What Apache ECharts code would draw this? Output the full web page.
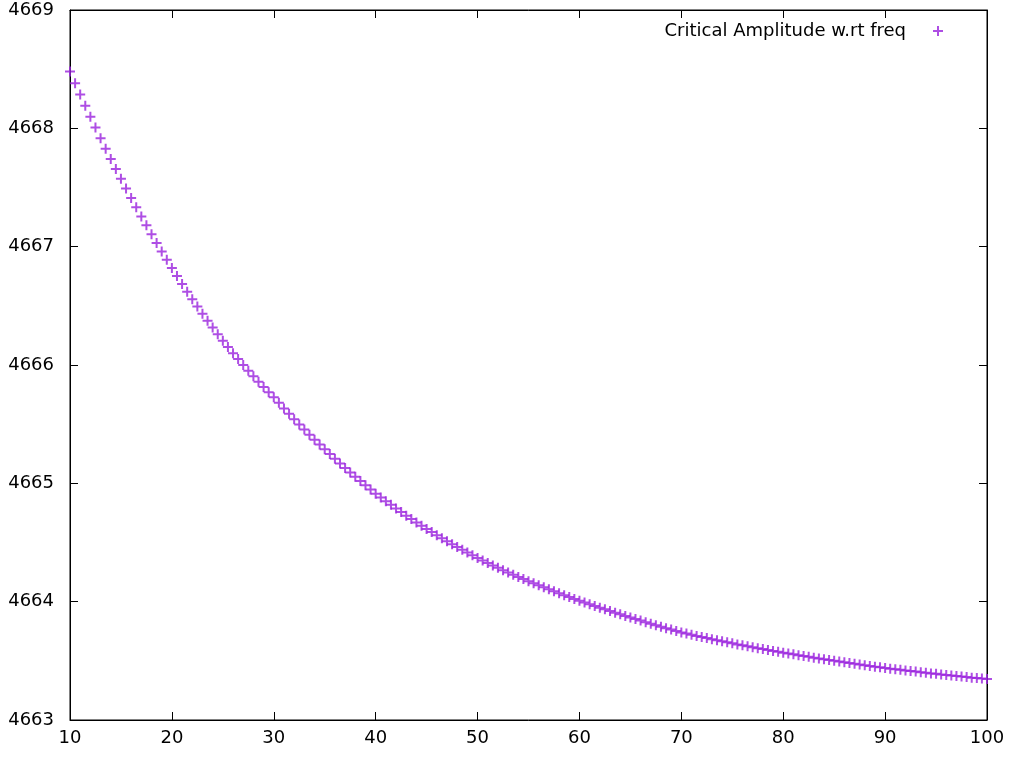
<!DOCTYPE html>
<html>
<head>
<meta charset="utf-8">
<script src="https://cdn.jsdelivr.net/npm/echarts@6/dist/echarts.min.js"></script>
<style>
html,body{margin:0;padding:0;background:#fff;}
#chart{width:1013px;height:758px;}
</style>
</head>
<body>
<div id="chart"></div>
<script>
// frequency values (x)
var freq = [
    10, 10.5, 11, 11.5, 12, 12.5, 13, 13.5, 14, 14.5,
    15, 15.5, 16, 16.5, 17, 17.5, 18, 18.5, 19, 19.5,
    20, 20.5, 21, 21.5, 22, 22.5, 23, 23.5, 24, 24.5,
    25, 25.5, 26, 26.5, 27, 27.5, 28, 28.5, 29, 29.5,
    30, 30.5, 31, 31.5, 32, 32.5, 33, 33.5, 34, 34.5,
    35, 35.5, 36, 36.5, 37, 37.5, 38, 38.5, 39, 39.5,
    40, 40.5, 41, 41.5, 42, 42.5, 43, 43.5, 44, 44.5,
    45, 45.5, 46, 46.5, 47, 47.5, 48, 48.5, 49, 49.5,
    50, 50.5, 51, 51.5, 52, 52.5, 53, 53.5, 54, 54.5,
    55, 55.5, 56, 56.5, 57, 57.5, 58, 58.5, 59, 59.5,
    60, 60.5, 61, 61.5, 62, 62.5, 63, 63.5, 64, 64.5,
    65, 65.5, 66, 66.5, 67, 67.5, 68, 68.5, 69, 69.5,
    70, 70.5, 71, 71.5, 72, 72.5, 73, 73.5, 74, 74.5,
    75, 75.5, 76, 76.5, 77, 77.5, 78, 78.5, 79, 79.5,
    80, 80.5, 81, 81.5, 82, 82.5, 83, 83.5, 84, 84.5,
    85, 85.5, 86, 86.5, 87, 87.5, 88, 88.5, 89, 89.5,
    90, 90.5, 91, 91.5, 92, 92.5, 93, 93.5, 94, 94.5,
    95, 95.5, 96, 96.5, 97, 97.5, 98, 98.5, 99, 99.5,
    100
];
// critical amplitude (y)
var amp = [
    4668.480, 4668.381, 4668.285, 4668.191, 4668.097, 4668.006, 4667.916, 4667.828, 4667.741, 4667.657,
    4667.573, 4667.492, 4667.411, 4667.333, 4667.255, 4667.180, 4667.105, 4667.032, 4666.960, 4666.890,
    4666.820, 4666.752, 4666.685, 4666.620, 4666.556, 4666.494, 4666.433, 4666.374, 4666.316, 4666.260,
    4666.205, 4666.152, 4666.100, 4666.050, 4666.000, 4665.952, 4665.905, 4665.859, 4665.814, 4665.770,
    4665.727, 4665.680, 4665.633, 4665.587, 4665.542, 4665.498, 4665.454, 4665.411, 4665.369, 4665.328,
    4665.287, 4665.247, 4665.207, 4665.168, 4665.130, 4665.092, 4665.055, 4665.019, 4664.983, 4664.948,
    4664.913, 4664.881, 4664.849, 4664.818, 4664.787, 4664.757, 4664.727, 4664.698, 4664.670, 4664.642,
    4664.615, 4664.588, 4664.562, 4664.536, 4664.511, 4664.486, 4664.462, 4664.438, 4664.415, 4664.392,
    4664.370, 4664.348, 4664.327, 4664.306, 4664.286, 4664.266, 4664.247, 4664.228, 4664.209, 4664.191,
    4664.173, 4664.155, 4664.138, 4664.121, 4664.104, 4664.087, 4664.071, 4664.055, 4664.039, 4664.023,
    4664.008, 4663.993, 4663.978, 4663.963, 4663.949, 4663.935, 4663.921, 4663.907, 4663.893, 4663.879,
    4663.866, 4663.853, 4663.840, 4663.827, 4663.814, 4663.801, 4663.789, 4663.776, 4663.764, 4663.752,
    4663.740, 4663.730, 4663.720, 4663.710, 4663.701, 4663.692, 4663.683, 4663.674, 4663.665, 4663.656,
    4663.648, 4663.639, 4663.631, 4663.623, 4663.615, 4663.607, 4663.599, 4663.591, 4663.584, 4663.576,
    4663.569, 4663.562, 4663.555, 4663.548, 4663.541, 4663.534, 4663.527, 4663.520, 4663.514, 4663.507,
    4663.501, 4663.494, 4663.488, 4663.481, 4663.475, 4663.469, 4663.463, 4663.457, 4663.451, 4663.445,
    4663.439, 4663.434, 4663.429, 4663.424, 4663.419, 4663.414, 4663.409, 4663.404, 4663.399, 4663.394,
    4663.390, 4663.385, 4663.381, 4663.376, 4663.372, 4663.367, 4663.363, 4663.358, 4663.354, 4663.350,
    4663.346
];
var seriesName = 'Critical Amplitude w.rt freq';

var points = [];
for (var i = 0; i < freq.length; i++) {
    points.push([freq[i], amp[i]]);
}

// plus marker like gnuplot pt 1
var plusIcon = 'path://M4,0H6V4H10V6H6V10H4V6H0V4H4Z';
// legend icon: same plus pushed to the right, leaves a gap after the text
var legendIcon = 'path://M0,4.99H0.01V5.01H0Z M26,0H28V4H32V6H28V10H26V6H22V4H26Z';
var fontName = 'DejaVu Sans';

var myChart = echarts.init(document.getElementById('chart'));
var option = {
    backgroundColor: '#fff',
    animation: false,
    grid: {
        left: 70, right: 26, top: 10, bottom: 38,
        show: true, borderColor: '#000', borderWidth: 1
    },
    legend: {
        data: [{name: seriesName, icon: legendIcon}],
        right: 65, top: 17,
        align: 'right',
        itemWidth: 32, itemHeight: 10,
        textStyle: {fontFamily: fontName, fontSize: 18, color: '#000'}
    },
    xAxis: [{
        type: 'value', min: 10, max: 100, interval: 10,
        position: 'bottom',
        axisLine: {show: true, onZero: false, lineStyle: {color: '#000', width: 1}},
        axisTick: {show: true, inside: true, length: 8, lineStyle: {color: '#000'}},
        axisLabel: {fontFamily: fontName, fontSize: 18, color: '#000', margin: 9},
        splitLine: {show: false}
    }, {
        type: 'value', min: 10, max: 100, interval: 10,
        position: 'top',
        axisLine: {show: true, onZero: false, lineStyle: {color: '#000', width: 1}},
        axisTick: {show: true, inside: true, length: 8, lineStyle: {color: '#000'}},
        axisLabel: {show: false},
        splitLine: {show: false}
    }],
    yAxis: [{
        type: 'value', min: 4663, max: 4669, interval: 1,
        position: 'left',
        axisLine: {show: true, onZero: false, lineStyle: {color: '#000', width: 1}},
        axisTick: {show: true, inside: true, length: 8, lineStyle: {color: '#000'}},
        axisLabel: {
            fontFamily: fontName, fontSize: 18, color: '#000', margin: 16,
            formatter: function (v) { return String(v); }
        },
        splitLine: {show: false}
    }, {
        type: 'value', min: 4663, max: 4669, interval: 1,
        position: 'right',
        axisLine: {show: true, onZero: false, lineStyle: {color: '#000', width: 1}},
        axisTick: {show: true, inside: true, length: 8, lineStyle: {color: '#000'}},
        axisLabel: {show: false},
        splitLine: {show: false}
    }],
    series: [{
        name: seriesName,
        type: 'scatter',
        xAxisIndex: 0,
        yAxisIndex: 0,
        symbol: plusIcon,
        symbolSize: 10,
        itemStyle: {color: '#9a22dd'},
        data: points
    }]
};
myChart.setOption(option);
</script>
</body>
</html>
